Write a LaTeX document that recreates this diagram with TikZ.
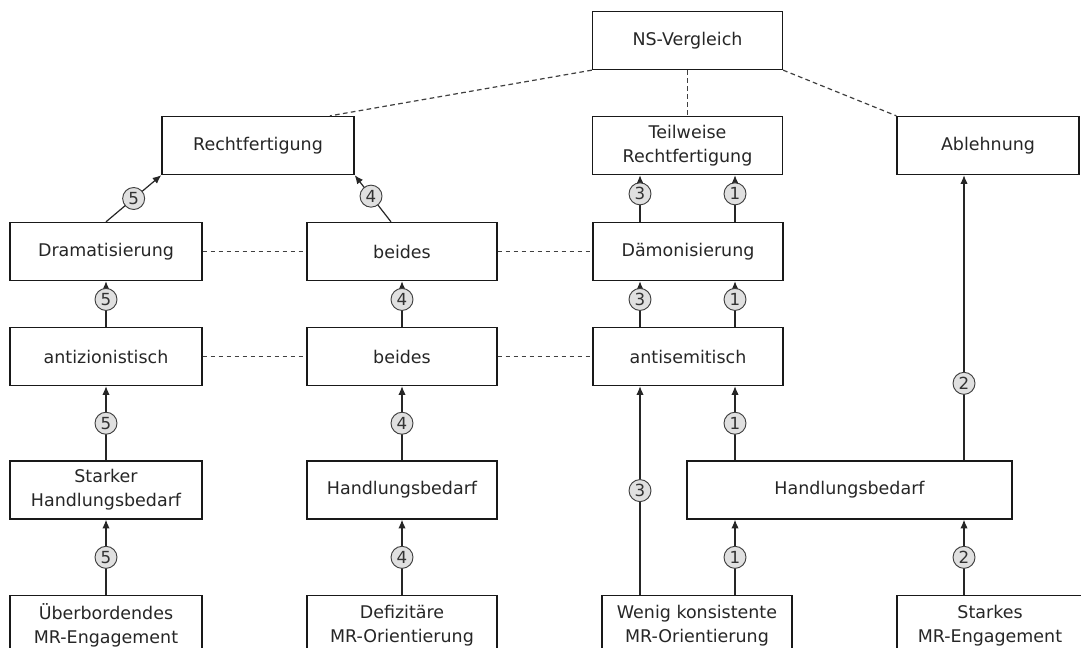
\documentclass[tikz,border=0pt]{standalone}
\usepackage{fontspec}
\setmainfont{DejaVu Sans}
\usetikzlibrary{arrows.meta}
\begin{document}
\begin{tikzpicture}[x=0.75pt,y=-0.75pt,
  box/.style={draw=black!90, line width=1pt, fill=white, inner sep=0pt, align=center,
    minimum height=43.5pt, font=\fontsize{13.1pt}{18pt}\selectfont, text=black!85},
  wA/.style={minimum width=144pt},
  wB/.style={minimum width=142.5pt},
  bot/.style={box, minimum height=45pt, anchor=north},
  arr/.style={draw=black!85, line width=0.9pt, -{Latex[length=6.5pt,width=5.5pt]}},
  dsh/.style={draw=black!75, line width=0.9pt, dash pattern=on 3.5pt off 2.5pt},
  num/.style={circle, draw=black!75, line width=0.7pt, fill=black!12, inner sep=0pt,
    minimum size=16.5pt, font=\fontsize{12.5pt}{12.5pt}\selectfont, text=black!80}
]
\useasboundingbox (0,0) rectangle (1081,648);
\clip (0,0) rectangle (1081,648);
\fill[white] (0,0) rectangle (1081,648);

% coordinates for connector x positions
\coordinate (xa) at (640,0);
\coordinate (xb) at (735,0);
\coordinate (xc) at (964,0);
\coordinate (xr) at (330,0);
\coordinate (xd) at (391,0);

% row 1
\node[box,wB] (ns) at (687.5,40.5) {NS-Vergleich};
% row 2
\node[box,wA] (recht) at (258,145.5) {Rechtfertigung};
\node[box,wB] (teil) at (687.5,145.5) {Teilweise\\Rechtfertigung};
\node[box,minimum width=136.5pt] (abl) at (988,145.5) {Ablehnung};
% row 3
\node[box,wA] (dram) at (106,251.5) {Dramatisierung};
\node[box,wB] (bd3) at (402,251.5) {beides};
\node[box,wB] (daem) at (688,251.5) {Dämonisierung};
% row 4
\node[box,wA] (antiz) at (106,356.5) {antizionistisch};
\node[box,wB] (bd4) at (402,356.5) {beides};
\node[box,wB] (antis) at (688,356.5) {antisemitisch};
% row 5
\node[box,wA] (hb1) at (106,490) {Starker\\Handlungsbedarf};
\node[box,wB] (hb2) at (402,490) {Handlungsbedarf};
\node[box,minimum width=243.75pt] (hb3) at (849.5,490) {Handlungsbedarf};
% row 6
\node[bot,wA] (ueb) at (106,595) {Überbordendes\\MR-Engagement};
\node[bot,wB] (def) at (402,595) {Defizitäre\\MR-Orientierung};
\node[bot,wB] (wen) at (697,595) {Wenig konsistente\\MR-Orientierung};
\node[bot,minimum width=139.5pt] (sta) at (990,595) {Starkes\\MR-Engagement};

% dashed links
\draw[dsh] (ns.south west) -- (recht.north -| xr);
\draw[dsh] (ns.south) -- (teil.north);
\draw[dsh] (ns.south east) -- (abl.north west);
\draw[dsh] (dram.east) -- (bd3.west);
\draw[dsh] (bd3.east) -- (daem.west);
\draw[dsh] (antiz.east) -- (bd4.west);
\draw[dsh] (bd4.east) -- (antis.west);

% column 1 (5)
\draw[arr] (ueb.north) -- node[num]{5} (hb1.south);
\draw[arr] (hb1.north) -- node[num]{5} (antiz.south);
\draw[arr] (antiz.north) -- node[num,pos=0.6]{5} (dram.south);
\draw[arr] (dram.north) -- node[num]{5} (recht.south west);

% column 2 (4)
\draw[arr] (def.north) -- node[num]{4} (hb2.south);
\draw[arr] (hb2.north) -- node[num]{4} (bd4.south);
\draw[arr] (bd4.north) -- node[num,pos=0.6]{4} (bd3.south);
\draw[arr] (bd3.north -| xd) -- node[num,pos=0.55]{4} (recht.south east);

% column 3 (3) and (1)
\draw[arr] (wen.north -| xa) -- node[num]{3} (antis.south -| xa);
\draw[arr] (antis.north -| xa) -- node[num,pos=0.6]{3} (daem.south -| xa);
\draw[arr] (daem.north -| xa) -- node[num,pos=0.6]{3} (teil.south -| xa);
\draw[arr] (wen.north -| xb) -- node[num]{1} (hb3.south -| xb);
\draw[arr] (hb3.north -| xb) -- node[num]{1} (antis.south -| xb);
\draw[arr] (antis.north -| xb) -- node[num,pos=0.6]{1} (daem.south -| xb);
\draw[arr] (daem.north -| xb) -- node[num,pos=0.6]{1} (teil.south -| xb);

% column 4 (2)
\draw[arr] (sta.north -| xc) -- node[num]{2} (hb3.south -| xc);
\draw[arr] (hb3.north -| xc) -- node[num,pos=0.27]{2} (abl.south -| xc);
\end{tikzpicture}
\end{document}
